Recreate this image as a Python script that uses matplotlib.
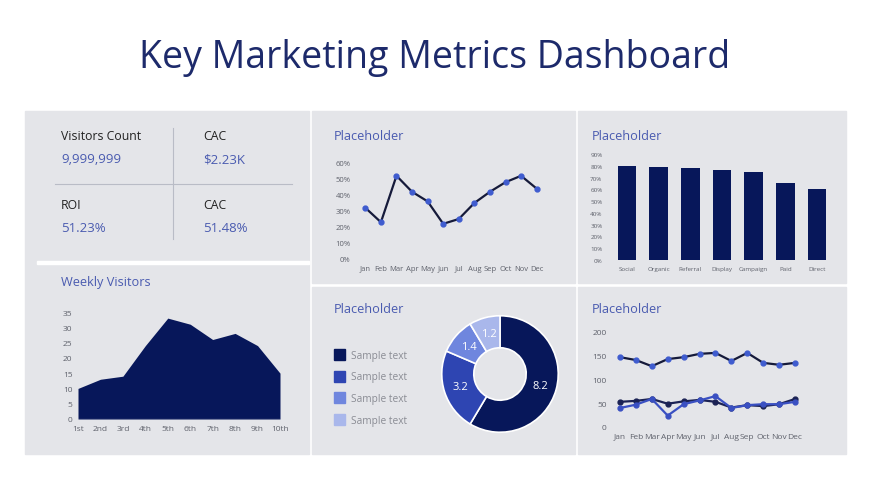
import matplotlib
matplotlib.use("Agg")
import matplotlib.pyplot as plt
from matplotlib.patches import Rectangle

plt.rcParams['font.family'] = ['Open Sans', 'DejaVu Sans']

W, H = 870, 489

# ---- data ----
kpi_labels = ["Visitors Count", "CAC", "ROI", "CAC"]
kpi_values = ["9,999,999", "$2.23K", "51.23%", "51.48%"]

months = ["Jan", "Feb", "Mar", "Apr", "May", "Jun", "Jul", "Aug", "Sep", "Oct", "Nov", "Dec"]
rate_values = [0.32, 0.23, 0.52, 0.42, 0.36, 0.22, 0.25, 0.35, 0.42, 0.48, 0.52, 0.44]

channels = ["Social", "Organic", "Referral", "Display", "Campaign", "Paid", "Direct"]
channel_values = [0.80, 0.79, 0.78, 0.76, 0.75, 0.65, 0.60]

weeks = ["1st", "2nd", "3rd", "4th", "5th", "6th", "7th", "8th", "9th", "10th"]
weekly_visitors = [10, 13, 14, 24, 33, 31, 26, 28, 24, 15]

donut_labels = ["Sample text", "Sample text", "Sample text", "Sample text"]
donut_values = [8.2, 3.2, 1.4, 1.2]

series_a = [147, 141, 128, 143, 147, 154, 156, 139, 156, 135, 131, 135]
series_b = [53, 55, 59, 49, 54, 57, 53, 41, 46, 44, 48, 59]
series_c = [40, 47, 59, 24, 48, 56, 65, 40, 46, 48, 48, 53]

# ---- colours ----
PANEL = "#e4e5e9"
NAVY = "#07175a"
TITLE = "#1d2a6b"
ACCENT = "#4a5bb0"
LINE_DARK = "#151a3a"
MARK_BLUE = "#3f5ccf"
DONUT_COLORS = ["#07175a", "#2e45b2", "#6f86de", "#a9b7eb"]
TICK = "#5f626c"


def rect(x0, y0, x1, y1):
    # pixel box (top-left origin) -> figure fraction
    return [x0 / W, 1 - y1 / H, (x1 - x0) / W, (y1 - y0) / H]


def fx(x):
    return x / W


def fy(y):
    return 1 - y / H


def new_axes(box, size):
    ax = fig.add_axes(rect(*box))
    ax.set_zorder(5)
    ax.set_facecolor("none")
    for s in ax.spines.values():
        s.set_visible(False)
    ax.tick_params(length=0, labelsize=size, colors=TICK, pad=4)
    return ax


fig = plt.figure(figsize=(W / 100, H / 100), dpi=100)
fig.patch.set_facecolor("white")

# panels
panels = [(25, 112, 309, 455), (312, 112, 575, 284), (312, 288, 575, 455),
          (578, 112, 846, 284), (578, 288, 846, 455)]
for x0, y0, x1, y1 in panels:
    fig.patches.append(Rectangle((fx(x0), fy(y1)), (x1 - x0) / W, (y1 - y0) / H,
                                 transform=fig.transFigure, color=PANEL, zorder=-5))
# white divider in left column
fig.patches.append(Rectangle((fx(37), fy(265)), (309 - 37) / W, 3 / H,
                             transform=fig.transFigure, color="white", zorder=-4))

fig.text(0.5, fy(58), "Key Marketing Metrics Dashboard", ha="center", va="center",
         fontsize=27, color=TITLE)

# ---- KPI block ----
kpi_pos = [(61, 137), (203, 137), (61, 206), (203, 206)]
for (x, y), lab, val in zip(kpi_pos, kpi_labels, kpi_values):
    fig.text(fx(x), fy(y), lab, ha="left", va="center", fontsize=8.8, color="#222222")
    fig.text(fx(x), fy(y + 23), val, ha="left", va="center", fontsize=9.5, color=ACCENT)
fig.add_artist(plt.Line2D([fx(55), fx(292)], [fy(185), fy(185)], color="#b9bcc6", lw=0.8))
fig.add_artist(plt.Line2D([fx(173), fx(173)], [fy(129), fy(240)], color="#b9bcc6", lw=0.8))

# ---- panel titles ----
for x, y, t in [(61, 283, "Weekly Visitors"), (334, 137, "Placeholder"),
                (592, 137, "Placeholder"), (334, 310, "Placeholder"),
                (592, 310, "Placeholder")]:
    fig.text(fx(x), fy(y), t, ha="left", va="center", fontsize=9.2, color=ACCENT)

# ---- weekly visitors area ----
ax = new_axes((78, 313, 280, 420), 6.0)
xs = list(range(len(weeks)))
ax.fill_between(xs, weekly_visitors, color=NAVY, lw=0)
ax.axhline(0, color="#c9ccd6", lw=0.8)
ax.set_xlim(0, len(weeks) - 1)
ax.set_ylim(0, 35)
ax.set_yticks(range(0, 36, 5))
ax.set_xticks(xs)
ax.set_xticklabels(weeks)

# ---- monthly rate line ----
ax = new_axes((356, 164, 546, 260), 5.5)
xs = list(range(len(months)))
ax.plot(xs, rate_values, color=LINE_DARK, lw=1.6, marker="o", ms=3.5,
        mfc=MARK_BLUE, mec=MARK_BLUE, clip_on=False)
ax.axhline(0, color="#d6d8de", lw=0.6)
ax.set_xlim(-0.6, 11.6)
ax.set_ylim(0, 0.6)
ax.set_yticks([i / 10 for i in range(7)])
ax.set_yticklabels([f"{i * 10}%" for i in range(7)])
ax.set_xticks(xs)
ax.set_xticklabels(months)

# ---- channel bars ----
ax = new_axes((608, 155, 836, 261), 4.5)
xs = list(range(len(channels)))
ax.bar(xs, channel_values, width=0.58, color=NAVY)
ax.axhline(0, color="#d6d8de", lw=0.6)
ax.set_xlim(-0.6, 6.6)
ax.set_ylim(0, 0.9)
ax.set_yticks([i / 10 for i in range(10)])
ax.set_yticklabels([f"{i * 10}%" for i in range(10)])
ax.set_xticks(xs)
ax.set_xticklabels(channels)

# ---- donut ----
ax = fig.add_axes(rect(440, 315, 560, 435))
ax.set_zorder(5)
ax.set_aspect("equal")
wedges, texts = ax.pie(donut_values, colors=DONUT_COLORS, startangle=90, counterclock=False,
                       radius=1.0, wedgeprops=dict(width=0.55, edgecolor="white", linewidth=1.2),
                       labels=[str(v) for v in donut_values], labeldistance=0.72,
                       textprops=dict(color="white", fontsize=8))
for t in texts:
    t.set_ha("center")
    t.set_va("center")
ax.set_xlim(-1.03, 1.03)
ax.set_ylim(-1.03, 1.03)

for i, lab in enumerate(donut_labels):
    y = 356 + i * 21.7
    fig.patches.append(Rectangle((fx(334), fy(y + 5)), 11 / W, 11 / H,
                                 transform=fig.transFigure, color=DONUT_COLORS[i], zorder=2))
    fig.text(fx(351), fy(y), lab, ha="left", va="center", fontsize=7.3, color="#8a8c94")

# ---- three series line chart ----
ax = new_axes((612, 333, 803, 428), 6.0)
xs = list(range(len(months)))
ax.plot(xs, series_a, color=LINE_DARK, lw=1.6, marker="o", ms=3.5,
        mfc=MARK_BLUE, mec=MARK_BLUE, clip_on=False)
ax.plot(xs, series_b, color="#1b2254", lw=1.6, marker="o", ms=3.5,
        mfc="#1b2254", mec="#1b2254", clip_on=False)
ax.plot(xs, series_c, color="#3a50c2", lw=1.6, marker="o", ms=3.5,
        mfc="#3a50c2", mec="#3a50c2", clip_on=False)
ax.axhline(0, color="#d6d8de", lw=0.6)
ax.set_xlim(-0.5, 11.5)
ax.set_ylim(0, 200)
ax.set_yticks(range(0, 201, 50))
ax.set_xticks(xs)
ax.set_xticklabels(months)

fig.savefig("out.png", dpi=100, facecolor="white")
